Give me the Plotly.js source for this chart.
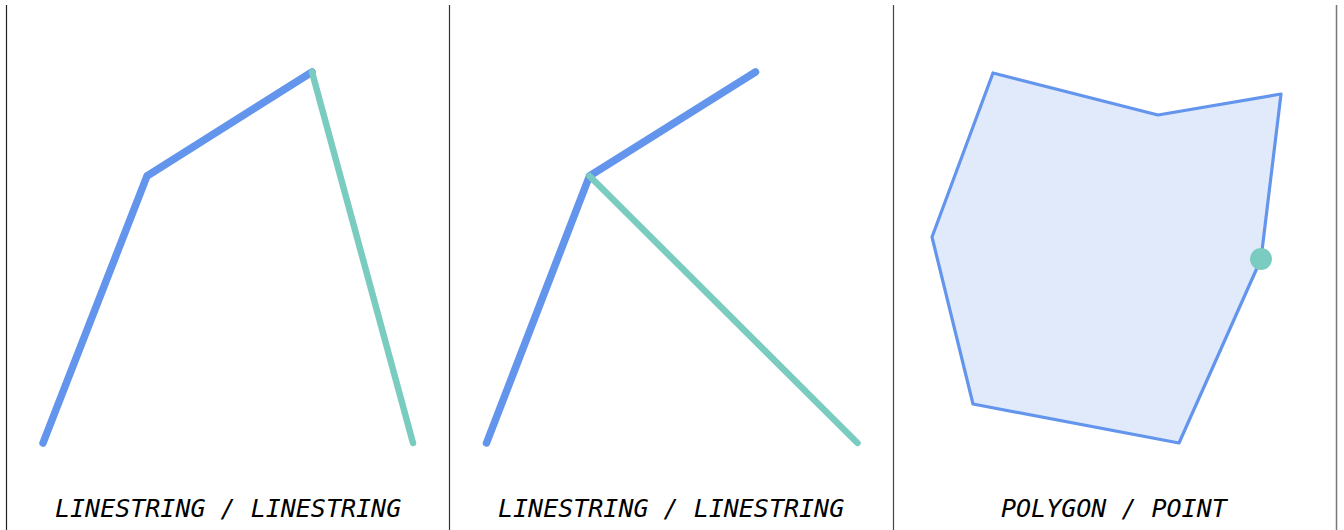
<!DOCTYPE html>
<html>
<head>
<meta charset="utf-8">
<script src="https://cdn.plot.ly/plotly-3.0.1.min.js"></script>
<style>
  html, body { margin: 0; padding: 0; background: #fff; }
  #chart { width: 1344px; height: 530px; }
  .scatterlayer path.js-line { stroke-linecap: round; stroke-linejoin: round; }
</style>
</head>
<body>
<div id="chart"></div>
<script>
// Panel 1: LINESTRING / LINESTRING
const p1LineAx = [37, 141, 306];
const p1LineAy = [87, 354, 458];
const p1LineBx = [306, 407];
const p1LineBy = [458, 87];

// Panel 2: LINESTRING / LINESTRING
const p2LineAx = [37, 140, 306];
const p2LineAy = [87, 354, 458];
const p2LineBx = [140, 408];
const p2LineBy = [354, 87];

// Panel 3: POLYGON / POINT
const p3PolyX = [100, 265, 388, 368, 286, 80, 39, 100];
const p3PolyY = [457, 415, 436, 271, 87, 126, 293, 457];
const p3PointX = [368];
const p3PointY = [271];

const panelLabels = ["LINESTRING / LINESTRING", "LINESTRING / LINESTRING", "POLYGON / POINT"];

const BLUE = "rgb(100,149,237)";
const TEAL = "rgb(122,204,192)";

const traces = [
  {x: p1LineAx, y: p1LineAy, xaxis: "x", yaxis: "y", mode: "lines", line: {color: BLUE, width: 7.5}, hoverinfo: "skip"},
  {x: p1LineBx, y: p1LineBy, xaxis: "x", yaxis: "y", mode: "lines", line: {color: TEAL, width: 6.5}, hoverinfo: "skip"},
  {x: p2LineAx, y: p2LineAy, xaxis: "x2", yaxis: "y", mode: "lines", line: {color: BLUE, width: 7.5}, hoverinfo: "skip"},
  {x: p2LineBx, y: p2LineBy, xaxis: "x2", yaxis: "y", mode: "lines", line: {color: TEAL, width: 6.5}, hoverinfo: "skip"},
  {x: p3PolyX, y: p3PolyY, xaxis: "x3", yaxis: "y", mode: "lines", fill: "toself", fillcolor: "rgba(100,149,237,0.2)", line: {color: BLUE, width: 3.2}, hoverinfo: "skip"},
  {x: p3PointX, y: p3PointY, xaxis: "x3", yaxis: "y", mode: "markers", marker: {color: TEAL, size: 22}, hoverinfo: "skip"}
];

const W = 1344;
const edges = [6, 449.5, 893, 1336.5];
const axBase = {showgrid: false, zeroline: false, showticklabels: false, ticks: "", showline: false, fixedrange: true};

const layout = {
  width: 1344, height: 530,
  margin: {l: 0, r: 0, t: 0, b: 0},
  paper_bgcolor: "#fff", plot_bgcolor: "rgba(0,0,0,0)",
  showlegend: false,
  xaxis: Object.assign({}, axBase, {domain: [edges[0] / W, edges[1] / W], range: [0, edges[1] - edges[0]]}),
  xaxis2: Object.assign({}, axBase, {domain: [edges[1] / W, edges[2] / W], range: [0, edges[2] - edges[1]]}),
  xaxis3: Object.assign({}, axBase, {domain: [edges[2] / W, edges[3] / W], range: [0, edges[3] - edges[2]]}),
  yaxis: Object.assign({}, axBase, {domain: [0, 1], range: [0, 530]}),
  shapes: [
    {type: "line", xref: "paper", yref: "paper", x0: 6.5 / W, x1: 6.5 / W, y0: 0, y1: 525 / 530, line: {color: "#222", width: 1.2}},
    {type: "line", xref: "paper", yref: "paper", x0: 449.5 / W, x1: 449.5 / W, y0: 0, y1: 525 / 530, line: {color: "#333", width: 1.2}},
    {type: "line", xref: "paper", yref: "paper", x0: 893.5 / W, x1: 893.5 / W, y0: 0, y1: 525 / 530, line: {color: "#444", width: 1.2}},
    {type: "line", xref: "paper", yref: "paper", x0: 1336.5 / W, x1: 1336.5 / W, y0: 0, y1: 525 / 530, line: {color: "#777", width: 1.5}}
  ],
  annotations: panelLabels.map((t, i) => ({
    text: t,
    xref: "paper", yref: "paper",
    x: (edges[i] + edges[i + 1]) / 2 / W,
    y: 22 / 530,
    xanchor: "center", yanchor: "middle",
    showarrow: false,
    font: {family: "DejaVu Sans Mono", size: 25, color: "#000", style: "italic"}
  }))
};

Plotly.newPlot("chart", traces, layout, {staticPlot: true, displayModeBar: false});
</script>
</body>
</html>
